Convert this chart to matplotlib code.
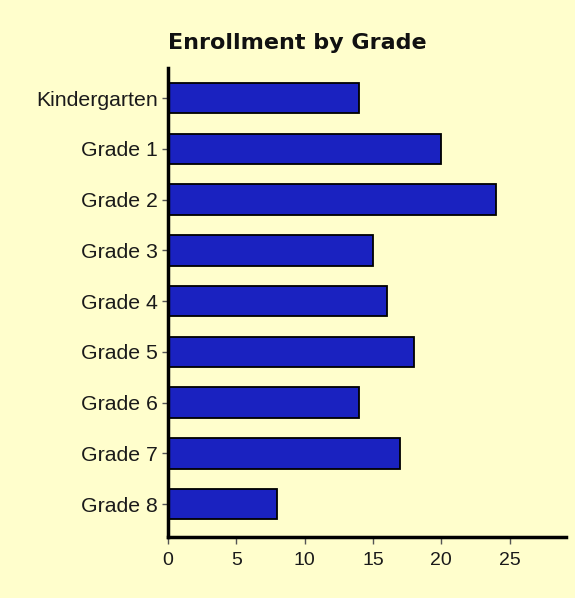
import matplotlib
matplotlib.use("Agg")
import matplotlib.pyplot as plt

categories = ["Kindergarten", "Grade 1", "Grade 2", "Grade 3", "Grade 4",
              "Grade 5", "Grade 6", "Grade 7", "Grade 8"]
enrollment = [14, 20, 24, 15, 16, 18, 14, 17, 8]
x_ticks = [0, 5, 10, 15, 20, 25]

bg = "#FFFECC"
bar_color = "#1A22C0"

fig = plt.figure(figsize=(5.75, 5.98), dpi=100, facecolor=bg)
ax = fig.add_axes([0.292, 0.102, 0.692, 0.784])
ax.set_facecolor(bg)

ypos = list(range(len(categories)))
ax.barh(ypos, enrollment, height=0.6, color=bar_color, edgecolor="black", linewidth=1.3)
ax.set_yticks(ypos)
ax.set_yticklabels(categories, fontsize=15.3, family="Liberation Sans", color="#1a1a1a")
ax.set_ylim(len(categories) - 1 + 0.65, -0.59)
ax.set_xlim(0, 29.1)
ax.set_xticks(x_ticks)
ax.set_xticklabels([str(t) for t in x_ticks], fontsize=14, family="Liberation Sans", color="#1a1a1a")

for s in ["top", "right"]:
    ax.spines[s].set_visible(False)
for s in ["left", "bottom"]:
    ax.spines[s].set_linewidth(2.5)
ax.tick_params(axis="y", length=4.5, width=1, color="#555555", pad=2.5)
ax.tick_params(axis="x", length=5, width=1, color="#555555", pad=6)

fig.text(0.517, 0.928, "Enrollment by Grade", ha="center", va="center",
         fontsize=16, fontweight="bold", family="DejaVu Sans", color="#111111")

fig.savefig("out.png", dpi=100, facecolor=bg)
